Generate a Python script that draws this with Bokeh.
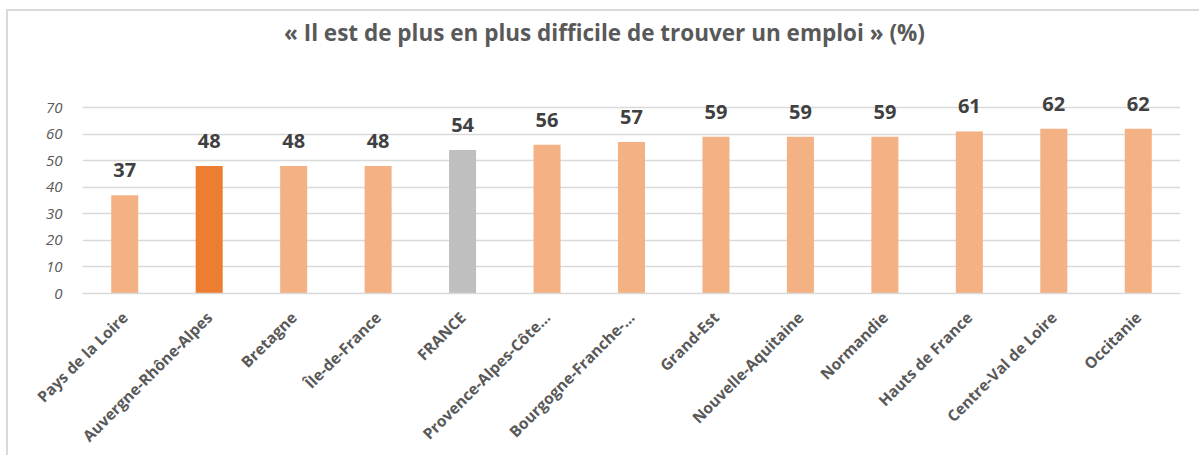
import math
from bokeh.plotting import figure
from bokeh.models import ColumnDataSource, FixedTicker, Label
from bokeh.embed import file_html
from bokeh.resources import INLINE

regions = ["Pays de la Loire", "Auvergne-Rhône-Alpes", "Bretagne", "Île-de-France", "FRANCE",
           "Provence-Alpes-Côte…", "Bourgogne-Franche-…", "Grand-Est", "Nouvelle-Aquitaine",
           "Normandie", "Hauts de France", "Centre-Val de Loire", "Occitanie"]
values = [37, 48, 48, 48, 54, 56, 57, 59, 59, 59, 61, 62, 62]
y_ticks = [0, 10, 20, 30, 40, 50, 60, 70]
title_text = "« Il est de plus en plus difficile de trouver un emploi » (%)"

LIGHT = "#F4B183"
DARK = "#ED7D31"
GREY = "#BFBFBF"
colors = [DARK if r == "Auvergne-Rhône-Alpes" else GREY if r == "FRANCE" else LIGHT for r in regions]
labels = [str(v) for v in values]

src = ColumnDataSource(dict(x=regions, top=values, color=colors, label=labels))

FONT = "Open Sans"
TXT = "#595959"

# the frame extends up to the top of the chart so that the title can sit inside it
p = figure(x_range=regions, y_range=(0, 105), width=1193, height=446,
           output_backend="svg", toolbar_location=None,
           min_border_left=74, min_border_right=21, min_border_top=3, min_border_bottom=163)
p.styles = {"border-left": "2px solid #d9d9d9", "border-top": "2px solid #d9d9d9",
            "margin-left": "6px", "margin-top": "9px"}

title = Label(x=6.18, y=98.2, text=title_text, text_align="center", text_baseline="middle",
              text_font=FONT, text_font_size="22.5px", text_font_style="bold", text_color=TXT)
p.add_layout(title)

p.vbar(x="x", top="top", width=0.32, fill_color="color", line_color=None, source=src)
p.text(x="x", y="top", text="label", source=src, text_align="center", text_baseline="bottom",
       y_offset=-18, text_font_size="20px", text_font_style="bold", text_color="#404040",
       text_font={"value": FONT})

p.outline_line_color = None
p.xgrid.grid_line_color = None
p.ygrid.grid_line_color = "#d9d9d9"
p.ygrid.grid_line_width = 1.5
p.yaxis.ticker = FixedTicker(ticks=y_ticks)
p.yaxis.axis_line_color = None
p.yaxis.major_tick_line_color = None
p.yaxis.minor_tick_line_color = None
p.yaxis.major_label_text_font = FONT
p.yaxis.major_label_text_font_style = "italic"
p.yaxis.major_label_text_font_size = "15px"
p.yaxis.major_label_text_color = TXT
p.yaxis.major_label_standoff = 14

p.xaxis.axis_line_color = "#d9d9d9"
p.xaxis.axis_line_width = 1.5
p.xaxis.major_tick_line_color = None
p.xaxis.minor_tick_line_color = None
p.xaxis.major_label_orientation = math.pi / 4
p.xaxis.major_label_text_font = FONT
p.xaxis.major_label_text_font_style = "bold"
p.xaxis.major_label_text_font_size = "15.5px"
p.xaxis.major_label_text_color = TXT
p.xaxis.major_label_standoff = 15

open("out.html", "w").write(file_html(p, INLINE))
